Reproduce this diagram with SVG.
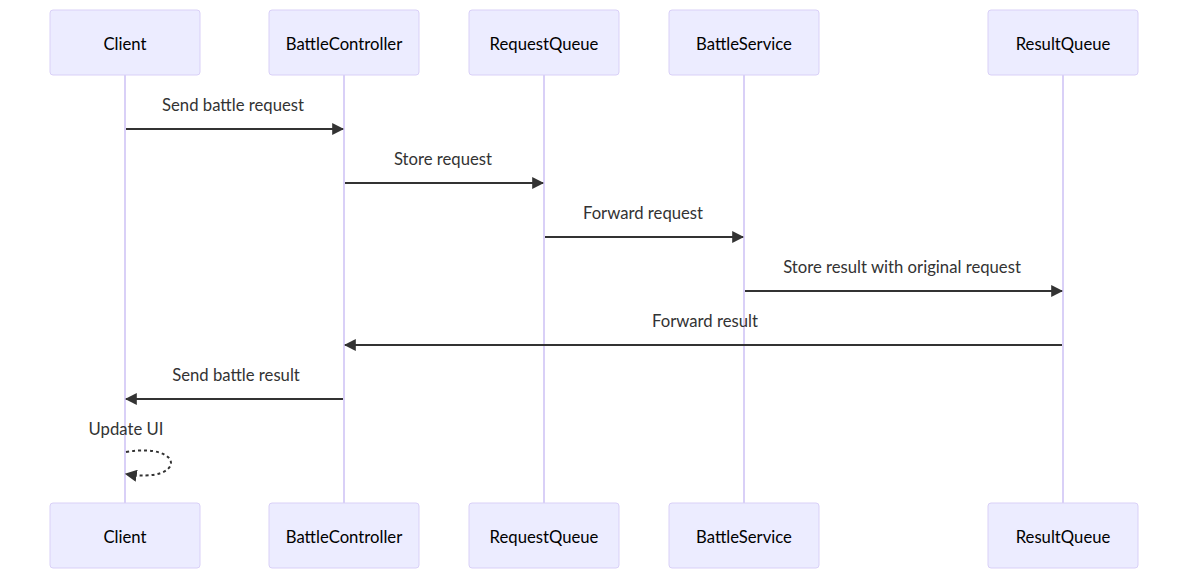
<svg xmlns="http://www.w3.org/2000/svg" width="1188" height="579" viewBox="0 0 1188 579">
<style>
.actor{fill:#ECECFF;stroke:#d9d0f7;stroke-width:1}
.atext{font-family:"Lato","Liberation Sans",sans-serif;font-size:16.7px;fill:#000;text-anchor:middle;dominant-baseline:central}
.life{stroke:#d9d0f7;stroke-width:2}
.msg{stroke:#333;stroke-width:2;fill:none}
.mtext{font-family:"Lato","Liberation Sans",sans-serif;font-size:16.7px;fill:#333;text-anchor:middle;dominant-baseline:central}
</style>
<defs>
<marker id="arrow" viewBox="0 0 10 10" refX="9" refY="5" markerWidth="12" markerHeight="12" markerUnits="userSpaceOnUse" orient="auto">
<path d="M0,0 L10,5 L0,10 z" fill="#333"/>
</marker>
</defs>
<g id="lifelines">
<line class="life" x1="125" y1="75" x2="125" y2="503"/>
<line class="life" x1="344" y1="75" x2="344" y2="503"/>
<line class="life" x1="544" y1="75" x2="544" y2="503"/>
<line class="life" x1="744" y1="75" x2="744" y2="503"/>
<line class="life" x1="1063" y1="75" x2="1063" y2="503"/>
</g>
<g id="client-top"><rect class="actor" x="50" y="10" width="150" height="65" rx="3"/><text class="atext" x="125" y="43.5">Client</text></g>
<g id="battlecontroller-top"><rect class="actor" x="269" y="10" width="150" height="65" rx="3"/><text class="atext" x="344" y="43.5">BattleController</text></g>
<g id="requestqueue-top"><rect class="actor" x="469" y="10" width="150" height="65" rx="3"/><text class="atext" x="544" y="43.5">RequestQueue</text></g>
<g id="battleservice-top"><rect class="actor" x="669" y="10" width="150" height="65" rx="3"/><text class="atext" x="744" y="43.5">BattleService</text></g>
<g id="resultqueue-top"><rect class="actor" x="988" y="10" width="150" height="65" rx="3"/><text class="atext" x="1063" y="43.5">ResultQueue</text></g>
<g id="client-bottom"><rect class="actor" x="50" y="503" width="150" height="65" rx="3"/><text class="atext" x="125" y="536.5">Client</text></g>
<g id="battlecontroller-bottom"><rect class="actor" x="269" y="503" width="150" height="65" rx="3"/><text class="atext" x="344" y="536.5">BattleController</text></g>
<g id="requestqueue-bottom"><rect class="actor" x="469" y="503" width="150" height="65" rx="3"/><text class="atext" x="544" y="536.5">RequestQueue</text></g>
<g id="battleservice-bottom"><rect class="actor" x="669" y="503" width="150" height="65" rx="3"/><text class="atext" x="744" y="536.5">BattleService</text></g>
<g id="resultqueue-bottom"><rect class="actor" x="988" y="503" width="150" height="65" rx="3"/><text class="atext" x="1063" y="536.5">ResultQueue</text></g>
<g id="connectors">
<line class="msg" x1="126" y1="129" x2="343" y2="129" marker-end="url(#arrow)"/>
<text class="mtext" x="233" y="104.5">Send battle request</text>
<line class="msg" x1="345" y1="183" x2="543" y2="183" marker-end="url(#arrow)"/>
<text class="mtext" x="443" y="158.5">Store request</text>
<line class="msg" x1="545" y1="237" x2="743" y2="237" marker-end="url(#arrow)"/>
<text class="mtext" x="643" y="212.5">Forward request</text>
<line class="msg" x1="745" y1="291" x2="1062" y2="291" marker-end="url(#arrow)"/>
<text class="mtext" x="902" y="266.5">Store result with original request</text>
<line class="msg" x1="1062" y1="345" x2="345" y2="345" marker-end="url(#arrow)"/>
<text class="mtext" x="705" y="320.5">Forward result</text>
<line class="msg" x1="343" y1="399" x2="126" y2="399" marker-end="url(#arrow)"/>
<text class="mtext" x="236" y="374.5">Send battle result</text>
<path class="msg" d="M126,452 C186,442 186,484 126,474" stroke-dasharray="3,3" marker-end="url(#arrow)"/>
<text class="mtext" x="126" y="428.5">Update UI</text>
</g>
</svg>
